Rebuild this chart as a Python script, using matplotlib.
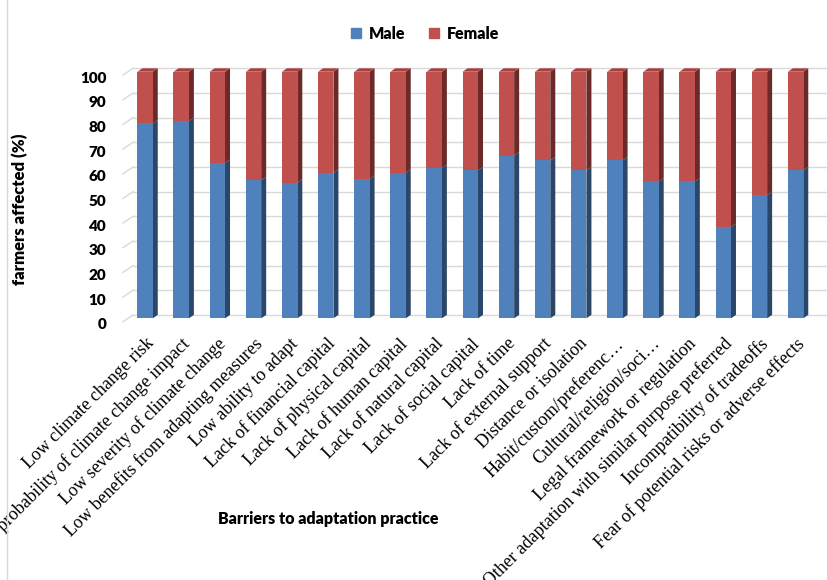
import matplotlib
matplotlib.use("Agg")
import matplotlib.pyplot as plt
from matplotlib.patches import Polygon, Rectangle
from matplotlib.lines import Line2D
import matplotlib.transforms as mtransforms
import numpy as np

categories = [
    "Low climate change risk",
    "Low probability of climate change impact",
    "Low severity of climate change",
    "Low benefits from adapting measures",
    "Low ability to adapt",
    "Lack of financial capital",
    "Lack of physical capital",
    "Lack of human capital",
    "Lack of natural capital",
    "Lack of social capital",
    "Lack of time",
    "Lack of external support",
    "Distance or isolation",
    "Habit/custom/preferenc\u2026",
    "Cultural/religion/soci\u2026",
    "Legal framework or regulation",
    "Other adaptation with similar purpose preferred",
    "Incompatibility of tradeoffs",
    "Fear of potential risks or adverse effects",
]
male = [79, 80, 63, 56, 55, 59, 56.5, 59, 61, 60, 66, 64, 60, 64, 55.5, 55.5, 37, 50, 60]
female = [21, 20, 37, 44, 45, 41, 43.5, 41, 39, 40, 34, 36, 40, 36, 44.5, 44.5, 63, 50, 40]
yticks = [0, 10, 20, 30, 40, 50, 60, 70, 80, 90, 100]

BLUE, BLUE_SIDE = "#4F81BD", "#2A4668"
RED, RED_SIDE, RED_TOP = "#C0504D", "#6B2927", "#A8413E"
GRID = "#D9D9D9"
SANS = "Lato"

W, H = 828, 580
fig = plt.figure(figsize=(W / 100, H / 100), dpi=100)
x0, x1 = -0.61, 18.4
ax_left, ax_bottom_px, ax_top_px = 123, 318.3, 71.7
spacing = 36.14
ax = fig.add_axes([ax_left / W, (H - ax_bottom_px) / H,
                   (x1 - x0) * spacing / W, (ax_bottom_px - ax_top_px) / H])
ax.set_xlim(x0, x1)
ax.set_ylim(0, 100)
for s in ax.spines.values():
    s.set_visible(False)

# 3D depth offsets in data units
dx = 5 / spacing
dy = 3.4 / ((ax_bottom_px - ax_top_px) / 100)
gdx = 10 / spacing

# gridlines on back wall plus diagonal floor stubs
for v in yticks:
    ax.add_line(Line2D([x0 + gdx, x1 + gdx + 0.3], [v + dy, v + dy], color=GRID, lw=1.0,
                       zorder=0, clip_on=False))
    ax.add_line(Line2D([x0, x0 + gdx], [v - dy, v + dy], color=GRID, lw=1.0,
                       zorder=0, clip_on=False))

x = np.arange(len(categories))
bw = 15.4 / spacing
male_a = np.array(male, dtype=float)
female_a = np.array(female, dtype=float)
top = male_a + female_a

ax.bar(x, male_a, width=bw, color=BLUE, zorder=3, label="Male", clip_on=False)
ax.bar(x, female_a, width=bw, bottom=male_a, color=RED, zorder=3, label="Female", clip_on=False)

for xi, m, t in zip(x, male_a, top):
    r = xi + bw / 2
    l = xi - bw / 2
    ax.add_patch(Polygon([(r, 0), (r + dx, dy), (r + dx, m + dy), (r, m)],
                         closed=True, facecolor=BLUE_SIDE, edgecolor="none", zorder=2, clip_on=False))
    ax.add_patch(Polygon([(r, m), (r + dx, m + dy), (r + dx, t + dy), (r, t)],
                         closed=True, facecolor=RED_SIDE, edgecolor="none", zorder=2, clip_on=False))
    ax.add_patch(Polygon([(l, t), (r, t), (r + dx, t + dy), (l + dx, t + dy)],
                         closed=True, facecolor=RED_TOP, edgecolor="none", zorder=2, clip_on=False))

ax.set_yticks(yticks)
ax.set_yticklabels([str(v) for v in yticks], fontsize=11, fontweight="heavy", family=SANS)
ax.tick_params(axis="y", length=0, pad=12)
off = mtransforms.ScaledTranslation(0, -5.5 / 100, fig.dpi_scale_trans)
for lab in ax.get_yticklabels():
    lab.set_transform(lab.get_transform() + off)

ax.set_xticks(x)
ax.set_xticklabels(categories, rotation=45, ha="right", rotation_mode="anchor",
                   fontsize=13, family="Liberation Serif")
ax.tick_params(axis="x", length=0, pad=12)

fig.text(20 / W, 1 - 209 / H, "farmers affected (%)", rotation=90, ha="center", va="center",
         fontsize=12, fontweight="heavy", family=SANS)
fig.text(328 / W, 1 - 519 / H, "Barriers to adaptation practice", ha="center", va="center",
         fontsize=11.5, fontweight="heavy", family=SANS)

fig.legend(handles=[Rectangle((0, 0), 1, 1, color=BLUE), Rectangle((0, 0), 1, 1, color=RED)],
           labels=["Male", "Female"], loc="center", bbox_to_anchor=(425 / W, 1 - 34 / H),
           ncol=2, frameon=False, prop={"family": SANS, "weight": "heavy", "size": 11.5},
           handlelength=0.6, handleheight=0.6, handletextpad=0.5, columnspacing=1.5)

fig.add_artist(Line2D([7 / W, 7 / W], [0, 1], color=GRID, lw=1.0, transform=fig.transFigure))

fig.savefig("out.png", dpi=100)
